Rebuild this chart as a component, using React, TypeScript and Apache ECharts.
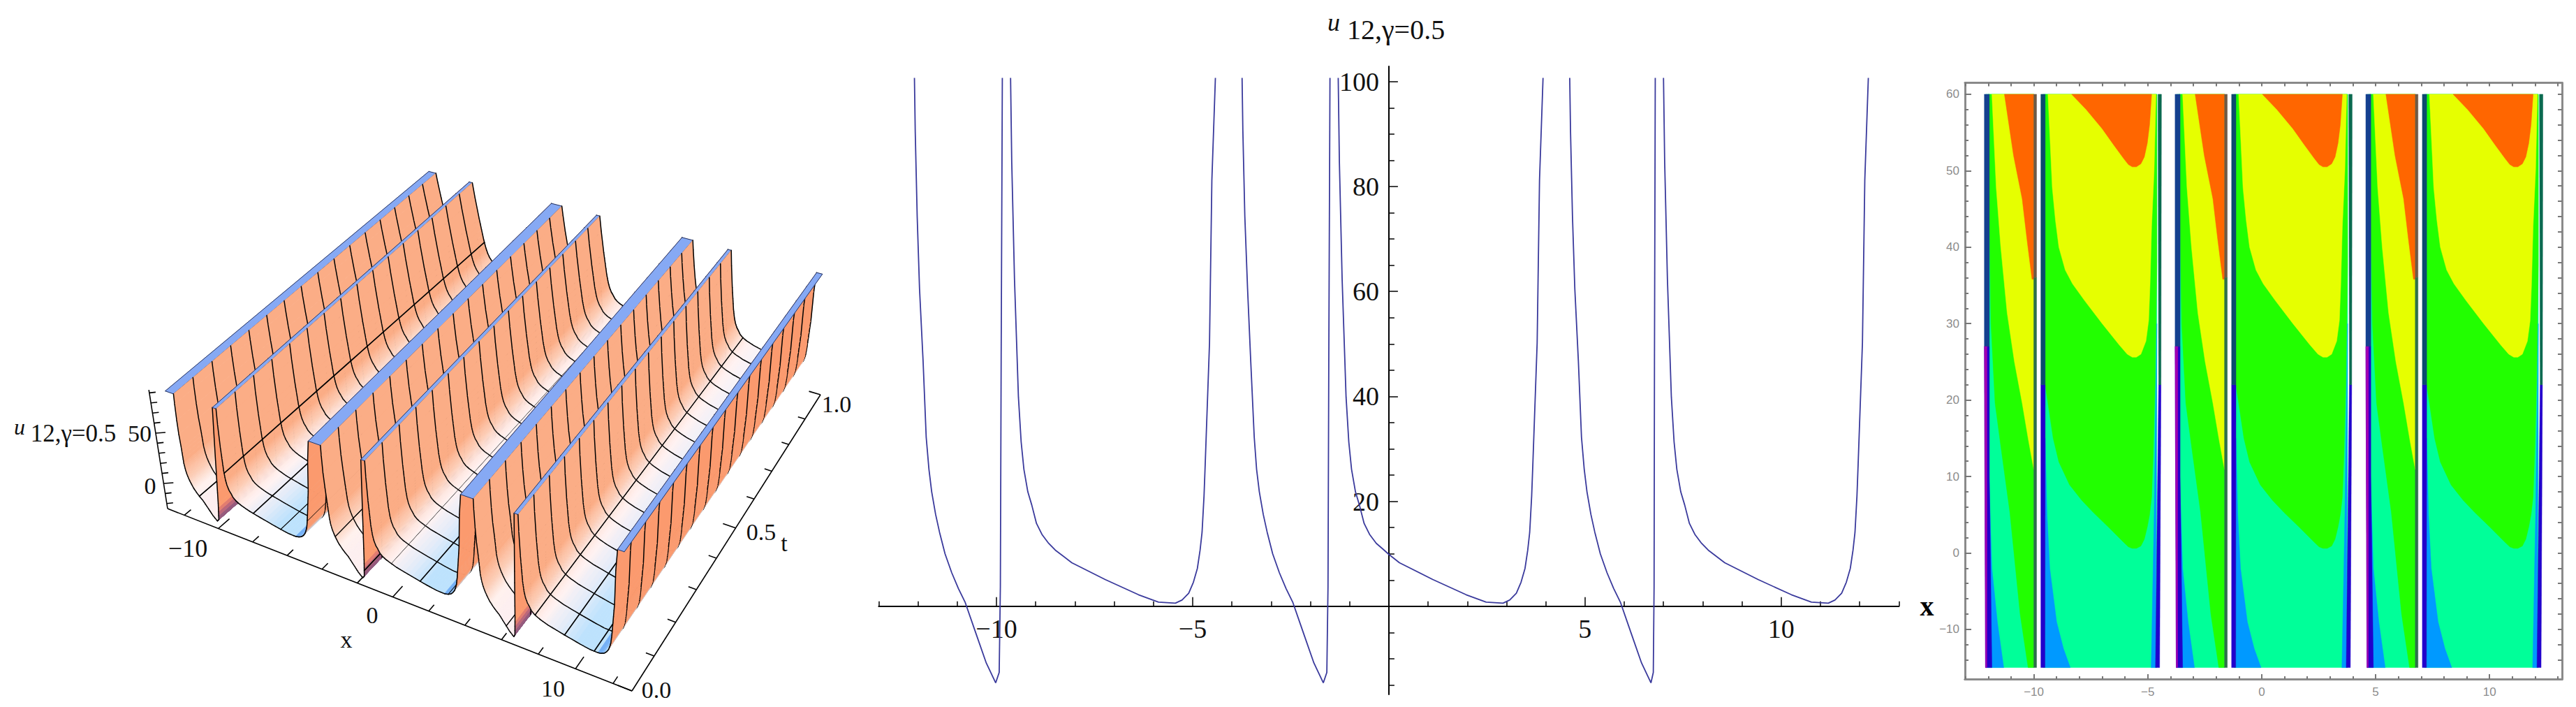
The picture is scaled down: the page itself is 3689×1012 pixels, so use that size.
import React, { useEffect, useRef } from "react";
import * as echarts from "echarts";

// ---------- middle panel: u(x) branches ----------
const branchA1 = [[-12.09,100.7],[-12.07,90.6],[-12.02,74.3],[-11.96,60.5],[-11.87,46.8],[-11.79,32.2],[-11.72,26.1],[-11.65,21.8],[-11.55,17.5],[-11.45,14.1],[-11.31,10],[-11.14,6.4],[-10.97,3.4],[-10.8,0.8],[-10.54,-4.8],[-10.26,-10.8],[-10.02,-14.6],[-9.93,-12.6],[-9.9,3.8],[-9.88,46.8],[-9.85,100.7]];
const branchB1 = [[-9.64,100.7],[-9.61,84.6],[-9.54,62.3],[-9.44,39.9],[-9.37,31.3],[-9.3,26.1],[-9.2,21.8],[-9.1,19.3],[-8.98,15.8],[-8.84,13.7],[-8.67,12],[-8.5,10.7],[-8.08,8.3],[-7.23,5.1],[-6.38,2.2],[-5.87,0.8],[-5.44,0.6],[-5.27,1.2],[-5.1,2.5],[-4.98,4.6],[-4.88,7.2],[-4.81,10.7],[-4.76,14.1],[-4.71,21],[-4.68,27],[-4.57,50.2],[-4.51,81.2],[-4.42,100.7]];
const branchA2 = [[-3.74,100.7],[-3.72,90.6],[-3.67,74.3],[-3.6,60.5],[-3.52,46.8],[-3.43,32.2],[-3.37,26.1],[-3.3,21.8],[-3.2,17.5],[-3.1,14.1],[-2.96,10],[-2.79,6.4],[-2.62,3.4],[-2.45,0.8],[-2.19,-4.8],[-1.91,-10.8],[-1.67,-14.6],[-1.58,-12.6],[-1.55,3.8],[-1.53,46.8],[-1.5,100.7]];
const branchB2 = [[-1.29,100.7],[-1.26,84.6],[-1.19,62.3],[-1.09,39.9],[-1.02,31.3],[-0.95,26.1],[-0.85,21.8],[-0.75,19.3],[-0.63,15.8],[-0.49,13.7],[-0.32,12],[-0.15,10.9],[0,9.9],[0.27,8.3],[1.12,5.1],[1.97,2.2],[2.48,0.8],[2.91,0.6],[3.08,1.2],[3.25,2.5],[3.37,4.6],[3.47,7.2],[3.54,10.7],[3.59,14.1],[3.64,21],[3.67,27],[3.78,50.2],[3.84,81.2],[3.93,100.7]];
const branchA3 = [[4.61,100.7],[4.63,90.6],[4.68,74.3],[4.74,60.5],[4.83,46.8],[4.91,32.2],[4.98,26.1],[5.05,21.8],[5.15,17.5],[5.25,14.1],[5.39,10],[5.56,6.4],[5.73,3.4],[5.9,0.8],[6.16,-4.8],[6.44,-10.8],[6.68,-14.6],[6.74,-12.6],[6.76,3.8],[6.77,46.8],[6.79,100.7]];
const branchB3 = [[7,100.7],[7.03,84.6],[7.1,62.3],[7.2,39.9],[7.27,31.3],[7.34,26.1],[7.44,21.8],[7.54,19.3],[7.66,15.8],[7.8,13.7],[7.97,12],[8.14,10.7],[8.56,8.3],[9.41,5.1],[10.26,2.2],[10.77,0.8],[11.2,0.6],[11.37,1.2],[11.54,2.5],[11.66,4.6],[11.76,7.2],[11.83,10.7],[11.88,14.1],[11.93,21],[11.96,27],[12.07,50.2],[12.13,81.2],[12.22,100.7]];
const branches = [branchA1, branchB1, branchA2, branchB2, branchA3, branchB3];

const midXMinor = [-13,-12,-11,-9,-8,-7,-6,-4,-3,-2,-1,1,2,3,4,6,7,8,9,11,12,13];
const midXMajor = [-10,-5,5,10];
const midYMinor = [-15,-10,-5,5,10,15,25,30,35,45,50,55,65,70,75,85,90,95];
const midYMajor = [20,40,60,80,100];

// ---------- left panel: 3D surface over the same u(x) ----------
const surfaceEdgeLeft = [[-12.57,100.7]];
const surfaceEdgeRight = [[12.57,100.7]];
const meshX = [-11,-9.42,-7.85,-6.28,-4.71,-3.14,-1.57,0,1.57,3.14,6.28,7.85,9.42,11];
const meshT = [0,0.0625,0.125,0.1875,0.25,0.3125,0.375,0.4375,0.5,0.5625,0.625,0.6875,0.75,0.8125,0.875,0.9375,1];
const tick3dX = [-12,-10,-8,-6,-4,-2,0,2,4,6,8,10,12];
const tick3dXMajor = [-10,0,10];
const tick3dT = [0,0.1,0.2,0.3,0.4,0.5,0.6,0.7,0.8,0.9,1];
const tick3dTMajor = [0,0.5,1];
const tick3dU = [-20,-10,0,10,20,30,40,50,60,70,80,90];
const tick3dUMajor = [0,50];

// ---------- right panel: contour boundaries of one period ----------
const contourTealA = [[-12.1,60],[-10,60],[-10,-15],[-12.1,-15]];
const contourBlueA = [[-12.02,15],[-11.84,-2],[-11.6,-9],[-11.32,-15],[-12.02,-15]];
const contourGreenA = [[-12,60],[-10,60],[-10,-15],[-10.25,-15],[-10.6,-8],[-11.05,5.3],[-11.45,14],[-11.7,19.6],[-11.88,30],[-11.95,42.7]];
const contourYellowA = [[-11.84,60],[-10,60],[-10,10.9],[-10.25,15],[-10.51,19.6],[-10.85,25],[-11.17,31.4],[-11.45,40],[-11.65,47.8]];
const contourOrangeA = [[-11.29,60],[-10,60],[-10,35.8],[-10.08,35.8],[-10.3,41],[-10.51,46.3],[-10.89,52]];
const contourDarkA = [[-12.17,27],[-11.95,27],[-11.95,10],[-11.84,-15],[-12.12,-15]];
const contourDarkTopA = [[-12.17,60],[-11.95,60],[-11.95,27],[-12.17,27]];
const contourPurpleA = [[-12.17,27],[-12.05,27],[-12.06,-15],[-12.12,-15]];
const contourEdgeTopA = [[-10,60],[-9.88,60],[-9.88,36],[-10,36]];
const contourEdgeLowA = [[-10,36],[-9.88,36],[-9.88,-15],[-10,-15]];
const contourTealB = [[-9.6,60],[-4.6,60],[-4.6,-15],[-9.6,-15]];
const contourBlueB = [[-9.5,15],[-9.42,5],[-9.3,-2],[-9,-9],[-8.7,-12.5],[-8.4,-15],[-9.5,-15]];
const contourGreenB = [[-9.5,60],[-4.6,60],[-4.6,37.6],[-4.68,22.2],[-4.76,13],[-4.83,7.3],[-4.92,5],[-5.02,3.4],[-5.15,1.8],[-5.3,0.9],[-5.5,0.6],[-5.68,0.6],[-5.85,0.8],[-6.06,1.4],[-6.7,3.3],[-7.39,5.3],[-7.9,6.9],[-8.43,8.9],[-8.9,11.9],[-9.15,15],[-9.3,18],[-9.5,22]];
const contourYellowB = [[-9.38,60],[-4.64,60],[-4.72,50],[-4.83,42.7],[-4.9,35],[-4.96,30.4],[-5.08,27.7],[-5.3,26],[-5.5,25.6],[-5.68,25.6],[-5.9,26],[-6.25,27.2],[-7,30],[-7.77,33],[-8.3,35.2],[-8.62,37],[-8.9,40],[-9.05,43.5],[-9.19,47.8]];
const contourOrangeB = [[-8.34,60],[-4.83,60],[-4.92,56],[-5.02,53.6],[-5.15,51.8],[-5.3,50.9],[-5.5,50.5],[-5.68,50.5],[-5.85,50.8],[-6.06,51.6],[-6.5,53.4],[-7,55.5],[-7.7,58]];
const contourBlueEdgeB = [[-4.72,5],[-4.6,30],[-4.66,-15],[-4.85,-15]];
const contourDarkLeftB = [[-9.69,22],[-9.5,22],[-9.51,-15],[-9.69,-15]];
const contourDarkLeftTopB = [[-9.69,60],[-9.5,60],[-9.5,22],[-9.69,22]];
const contourDarkRightB = [[-4.52,22],[-4.42,22],[-4.48,-15],[-4.66,-15]];
const contourDarkRightTopB = [[-4.55,60],[-4.4,60],[-4.42,22],[-4.52,22]];
const contourPeriodShift = [0, 8.37, 16.74];

const contourXMinor = [-13,-12,-11,-9,-8,-7,-6,-4,-3,-2,-1,1,2,3,4,6,7,8,9,11,12,13];
const contourXMajor = [-10,-5,0,5,10];
const contourYMinor = [-14,-12,-8,-6,-4,-2,2,4,6,8,12,14,16,18,22,24,26,28,32,34,36,38,42,44,46,48,52,54,56,58];
const contourYMajor = [-10,0,10,20,30,40,50,60];

// ---------- styling ----------
const SERIF = '"Liberation Serif"';
const contourStyles: [number[][], string][] = [
  [contourTealA, "#00ff99"], [contourBlueA, "#0099ff"], [contourGreenA, "#22ff00"], [contourYellowA, "#e6ff00"],
  [contourOrangeA, "#ff6600"], [contourDarkA, "#2200cc"], [contourDarkTopA, "#14408f"], [contourPurpleA, "#a000b0"],
  [contourEdgeTopA, "#6e5a46"], [contourEdgeLowA, "#2f6f4a"],
  [contourTealB, "#00ff99"], [contourBlueB, "#0099ff"], [contourGreenB, "#22ff00"], [contourYellowB, "#e6ff00"],
  [contourOrangeB, "#ff6600"], [contourBlueEdgeB, "#0099ff"], [contourDarkLeftB, "#2200cc"], [contourDarkLeftTopB, "#0c4a70"],
  [contourDarkRightB, "#2200cc"], [contourDarkRightTopB, "#0b6a50"],
];

// projection of the 3D box: corners on screen
const U_BASE = -22, U_TOP = 100.7;
const B00 = [240,728], B10 = [905,989], B11 = [1175,565], B01 = [635,405];
const T00 = [226,556], T10 = [906,794], T11 = [1188,395], T01 = [605,243];
const lerp = (a: number, b: number, k: number) => a + (b - a) * k;
function proj(x: number, t: number, u: number): number[] {
  const s = (x + 13) / 26;
  const fs = s - 0.06 * s * (1 - s);
  const ft = t + 0.2 * t * (1 - t);
  const v = (u - U_BASE) / (U_TOP - U_BASE);
  const out = [0, 0];
  for (let d = 0; d < 2; d++) {
    const b = lerp(lerp(B00[d], B10[d], fs), lerp(B01[d], B11[d], fs), ft);
    const a = lerp(lerp(T00[d], T10[d], fs), lerp(T01[d], T11[d], fs), ft);
    out[d] = lerp(b, a, v);
  }
  return out;
}

const hex = (c: string) => [1, 3, 5].map((i) => parseInt(c.slice(i, i + 2), 16));
function mix(a: string, b: string, k: number) {
  const p = hex(a), q = hex(b);
  const kk = Math.max(0, Math.min(1, k));
  return "rgb(" + p.map((v, i) => Math.round(lerp(v, q[i], kk))).join(",") + ")";
}
const toHex = (rgb: string) => {
  const m = rgb.match(/\d+/g)!.map(Number);
  return "#" + m.map((v) => v.toString(16).padStart(2, "0")).join("");
};
function ramp(stops: [number, string][], u: number) {
  if (u <= stops[0][0]) return stops[0][1];
  for (let i = 1; i < stops.length; i++) {
    if (u <= stops[i][0]) {
      const [u0, c0] = stops[i - 1], [u1, c1] = stops[i];
      return toHex(mix(c0, c1, (u - u0) / (u1 - u0)));
    }
  }
  return stops[stops.length - 1][1];
}
function surfaceColor(u: number, slope: number, t: number, isU: boolean, flat: boolean, nearRise: boolean) {
  if (flat) return "#86a9f4";
  const low = toHex(mix("#bde2fd", "#eef5fd", Math.pow(t, 1.4)));
  if (slope > 0) {
    if (u < 0) return ramp([[-15, "#6f4f80"], [-6, "#c0687a"], [0, "#f88a68"]], u);
    if (isU && u < 12) {
      const base = nearRise && t < 0.07 ? "#72aef5" : low;
      return ramp([[1, base], [5, low], [12, "#fb9a6e"]], u);
    }
    return "#fb9a6e";
  }
  if (!isU) return ramp([[0, "#fdeff0"], [8, "#fff1ee"], [18, "#fccdb6"], [34, "#fbad86"]], u);
  return ramp([[2.5, low], [6, toHex(mix(low, "#fdf2f6", 0.6))], [10, "#fff2f2"], [18, "#fdd0ba"], [30, "#fbad86"]], u);
}

// surface strips: far (low x) to near (high x)
type Strip = { x0: number; x1: number; u0: number; u1: number; isU: boolean; flat: boolean; nearRise: boolean };
const strips: Strip[] = [];
(() => {
  const pts: { x: number; u: number; isU: boolean }[] = [];
  surfaceEdgeLeft.forEach((p) => pts.push({ x: p[0], u: p[1], isU: false }));
  branches.forEach((b, i) => b.forEach((p) => pts.push({ x: p[0], u: p[1], isU: i % 2 === 1 })));
  surfaceEdgeRight.forEach((p) => pts.push({ x: p[0], u: p[1], isU: false }));
  for (let i = 0; i + 1 < pts.length; i++) {
    const a = pts[i], b = pts[i + 1];
    const flat = a.u > 100 && b.u > 100;
    const n = !flat && Math.min(a.u, b.u) < 40 ? 4 : 1;
    for (let k = 0; k < n; k++) {
      strips.push({
        x0: lerp(a.x, b.x, k / n), x1: lerp(a.x, b.x, (k + 1) / n),
        u0: lerp(a.u, b.u, k / n), u1: lerp(a.u, b.u, (k + 1) / n),
        isU: b.isU, flat, nearRise: b.u > a.u && a.u < 1.5,
      });
    }
  }
})();

function renderStrip(_p: any, api: any) {
  const s = strips[api.value(0)];
  const P = (x: number, t: number, u: number) => { const q = proj(x, t, u); return api.coord(q); };
  const slope = s.u1 - s.u0;
  const um = (s.u0 + s.u1) / 2;
  const children: any[] = [];
  for (let j = meshT.length - 2; j >= 0; j--) {
    const t0 = meshT[j], t1 = meshT[j + 1];
    const c = surfaceColor(um, slope, (t0 + t1) / 2, s.isU, s.flat, s.nearRise);
    children.push({ type: "polygon", shape: { points: [P(s.x0, t0, s.u0), P(s.x1, t0, s.u1), P(s.x1, t1, s.u1), P(s.x0, t1, s.u0)] }, style: { fill: c, stroke: c, lineWidth: 0.8 } });
  }
  if (!s.flat) {
    meshT.forEach((t) => {
      const a = P(s.x0, t, s.u0), b = P(s.x1, t, s.u1);
      children.push({ type: "line", shape: { x1: a[0], y1: a[1], x2: b[0], y2: b[1] }, style: { stroke: "#000", lineWidth: 1.5, lineCap: "round" } });
    });
  } else {
    [0, 1].forEach((t) => {
      const a = P(s.x0, t, s.u0), b = P(s.x1, t, s.u1);
      children.push({ type: "line", shape: { x1: a[0], y1: a[1], x2: b[0], y2: b[1] }, style: { stroke: "#2a3560", lineWidth: 1 } });
    });
  }
  const edgeLine = (x: number, u: number, w: number, col: string) => {
    const a = P(x, 0, u), b = P(x, 1, u);
    children.push({ type: "line", shape: { x1: a[0], y1: a[1], x2: b[0], y2: b[1] }, style: { stroke: col, lineWidth: w, lineCap: "round" } });
  };
  meshX.forEach((mx) => {
    if (mx > s.x0 && mx <= s.x1) {
      const u = lerp(s.u0, s.u1, (mx - s.x0) / (s.x1 - s.x0));
      edgeLine(mx, u, 1.7, "#000");
    }
  });
  if (s.flat) { edgeLine(s.x0, s.u0, 1, "#2a3560"); edgeLine(s.x1, s.u1, 1, "#2a3560"); }
  return { type: "group", silent: true, children };
}

function render3dAxes(_p: any, api: any) {
  const C = (q: number[]) => api.coord(q);
  const children: any[] = [];
  const seg = (a: number[], b: number[]) => {
    const p = C(a), q = C(b);
    children.push({ type: "line", shape: { x1: p[0], y1: p[1], x2: q[0], y2: q[1] }, style: { stroke: "#000", lineWidth: 1.6 } });
  };
  seg(proj(-13, 0, U_BASE), proj(13, 0, U_BASE));
  seg(proj(13, 0, U_BASE), proj(13, 1, U_BASE));
  const zPos = (u: number) => { const y = 692 - 1.44 * u; return [240 - ((728 - y) * 27) / 171, y]; };
  seg(proj(-13, 0, U_BASE), zPos(93));
  tick3dX.forEach((x) => {
    const m = tick3dXMajor.includes(x);
    seg(proj(x, 0, U_BASE), proj(x, m ? 0.035 : 0.02, U_BASE));
  });
  tick3dT.forEach((t) => {
    const m = tick3dTMajor.includes(t);
    seg(proj(13, t, U_BASE), proj(m ? 12.25 : 12.55, t, U_BASE));
  });
  tick3dU.forEach((u) => {
    const m = tick3dUMajor.includes(u);
    const p = zPos(u);
    seg(p, [p[0] + (m ? 14 : 9), p[1] - 1]);
  });
  return { type: "group", silent: true, children };
}

function renderContour(_p: any, api: any) {
  const [pts, fill] = contourStyles[api.value(0)];
  const dx = contourPeriodShift[api.value(1)];
  return {
    type: "polygon", silent: true,
    shape: { points: pts.map((p) => api.coord([p[0] + dx, p[1]])) },
    style: { fill, stroke: fill, lineWidth: 0.5 },
  };
}

const contourData: number[][] = [];
contourPeriodShift.forEach((_, k) => contourStyles.forEach((_s, i) => contourData.push([i, k])));

const minusFmt = (v: number) => (v < 0 ? "\u2212" + Math.abs(v) : String(v));

function axisBase(gridIndex: number, min: number, max: number) {
  return { type: "value", gridIndex, min, max, splitLine: { show: false }, axisLabel: { show: false }, axisTick: { show: false }, axisLine: { show: false } };
}
const midLine = { show: true, onZero: true, lineStyle: { color: "#000", width: 2 } };
const midHidden = { show: false, onZero: false };
const midTick = (customValues: number[], length: number) => ({ show: true, inside: true, length, customValues, lineStyle: { color: "#000", width: 1.5 } });
const midLabel = (customValues: number[], margin: number) => ({ show: true, customValues, margin, color: "#111", fontFamily: SERIF, fontSize: 38, formatter: minusFmt });
const ctLine = { show: true, onZero: false, lineStyle: { color: "#8a8a8a", width: 3 } };
const ctTick = (customValues: number[], length: number) => ({ show: true, inside: true, length, customValues, lineStyle: { color: "#777", width: 2 } });
const ctLabel = (customValues: number[], margin: number) => ({ show: true, customValues, margin, color: "#8c8c8c", fontFamily: "Arial, \"Liberation Sans\"", fontSize: 17, formatter: minusFmt });

const txt = (text: string, x: number, y: number, font: string, textAlign = "center") => ({
  type: "text", silent: true, x, y,
  style: { text, font, fill: "#111", textAlign, textVerticalAlign: "middle" },
});

export default function App() {
  const ref = useRef<HTMLDivElement>(null);
  useEffect(() => {
    const chart = echarts.init(ref.current!, undefined, { renderer: "svg" });
    chart.setOption({
      animation: false,
      backgroundColor: "#fff",
      grid: [
        { left: 1258.4, top: 95, width: 1461, height: 899, outerBoundsMode: "none" },
        { left: 2814, top: 118.5, width: 855, height: 853.5, outerBoundsMode: "none" },
        { left: 0, top: 0, width: 3689, height: 1012, outerBoundsMode: "none" },
      ],
      xAxis: [
        { ...axisBase(0, -13, 13), position: "bottom", axisLine: midLine, axisTick: midTick(midXMinor, 7), name: "x", nameLocation: "end", nameGap: 30, nameTextStyle: { fontFamily: SERIF, fontWeight: "bold", fontSize: 40, color: "#000" } },
        { ...axisBase(0, -13, 13), position: "bottom", offset: -126.2, axisLine: midHidden, axisTick: midTick(midXMajor, 13), axisLabel: midLabel(midXMajor, 13) },
        { ...axisBase(1, -13.02, 13.18), position: "bottom", axisLine: ctLine, axisTick: ctTick(contourXMinor, 4) },
        { ...axisBase(1, -13.02, 13.18), position: "bottom", axisLine: ctLine, axisTick: ctTick(contourXMajor, 7), axisLabel: ctLabel(contourXMajor, 10) },
        { ...axisBase(1, -13.02, 13.18), position: "top", axisLine: ctLine, axisTick: ctTick([...contourXMinor, ...contourXMajor], 5) },
        { ...axisBase(2, 0, 3689) },
      ],
      yAxis: [
        { ...axisBase(0, -16.8, 102.9), position: "left", axisLine: midLine, axisTick: midTick(midYMinor, 8) },
        { ...axisBase(0, -16.8, 102.9), position: "left", offset: -730.5, axisLine: midHidden, axisTick: midTick(midYMajor, 13), axisLabel: midLabel(midYMajor, 14) },
        { ...axisBase(1, -16.5, 61.5), position: "left", axisLine: ctLine, axisTick: ctTick(contourYMinor, 5) },
        { ...axisBase(1, -16.5, 61.5), position: "left", axisLine: ctLine, axisTick: ctTick(contourYMajor, 9), axisLabel: ctLabel(contourYMajor, 8) },
        { ...axisBase(1, -16.5, 61.5), position: "right", axisLine: ctLine, axisTick: ctTick([...contourYMinor, ...contourYMajor], 6) },
        { ...axisBase(2, 0, 1012), inverse: true },
      ],
      graphic: {
        elements: [
          txt("u", 1910, 32, `italic 36px ${SERIF}`),
          txt("12,\u03b3=0.5", 1999, 42, `40px ${SERIF}`),
          txt("u", 28, 611, `italic 32px ${SERIF}`),
          txt("12,\u03b3=0.5", 105, 620, `35px ${SERIF}`),
          txt("50", 200, 620, `34px ${SERIF}`),
          txt("0", 215, 695, `34px ${SERIF}`),
          txt("\u221210", 269, 785, `36px ${SERIF}`),
          txt("0", 533, 880, `34px ${SERIF}`),
          txt("x", 496, 915, `34px ${SERIF}`),
          txt("10", 792, 985, `34px ${SERIF}`),
          txt("0.0", 940, 987, `34px ${SERIF}`),
          txt("0.5", 1090, 761, `34px ${SERIF}`),
          txt("t", 1123, 777, `34px ${SERIF}`),
          txt("1.0", 1198, 578, `34px ${SERIF}`),
        ],
      },
      series: [
        ...branches.map((b) => ({
          type: "line", xAxisIndex: 0, yAxisIndex: 0, data: b, showSymbol: false, symbol: "none", silent: true, clip: false,
          lineStyle: { color: "#3a3a9c", width: 1.8 },
        })),
        {
          type: "custom", xAxisIndex: 2, yAxisIndex: 2, coordinateSystem: "cartesian2d", clip: false, silent: true,
          data: contourData, renderItem: renderContour, encode: { x: 0, y: 1 }, z: 1,
        },
        {
          type: "custom", xAxisIndex: 5, yAxisIndex: 5, coordinateSystem: "cartesian2d", clip: false, silent: true,
          data: strips.map((_, i) => [i, 0]), renderItem: renderStrip, encode: { x: 0, y: 1 }, z: 2, progressive: 0,
        },
        {
          type: "custom", xAxisIndex: 5, yAxisIndex: 5, coordinateSystem: "cartesian2d", clip: false, silent: true,
          data: [[0, 0]], renderItem: render3dAxes, encode: { x: 0, y: 1 }, z: 3,
        },
      ],
    });
    return () => chart.dispose();
  }, []);
  return <div ref={ref} style={{ position: "absolute", left: 0, top: 0, width: 3689, height: 1012 }} />;
}
